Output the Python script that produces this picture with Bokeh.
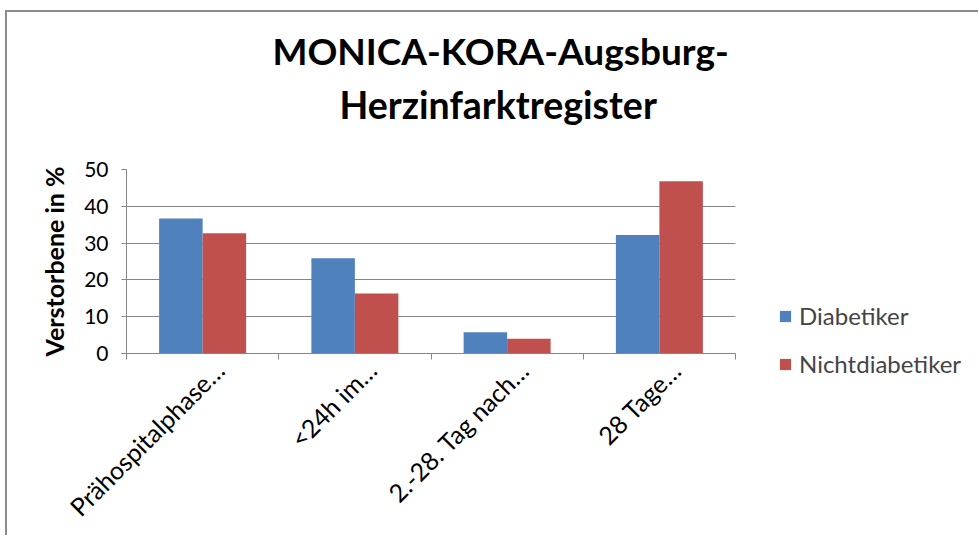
import numpy as np
from bokeh.plotting import figure
from bokeh.layouts import row
from bokeh.models import (ColumnDataSource, Range1d, FixedTicker, Legend, LegendItem, Title)
from bokeh.embed import file_html
from bokeh.resources import INLINE

# ---- data ----
categories = ["Prähospitalphase…", "<24h im…", "2.-28. Tag nach…", "28 Tage…"]
diabetiker = [36.7, 25.9, 5.8, 32.2]
nichtdiabetiker = [32.7, 16.3, 4.0, 46.8]
y_ticks = [0, 10, 20, 30, 40, 50]
series_names = ["Diabetiker", "Nichtdiabetiker"]
title_lines = ["MONICA-KORA-Augsburg-", "Herzinfarktregister"]
y_label = "Verstorbene in %"

BLUE = "#4F81BD"
RED = "#C0504D"
GRID = "#868686"
FONT = "Lato"

centers = np.arange(len(categories)) + 0.5
bw = 1 / 3.5
src = ColumnDataSource(dict(
    xd=centers - bw / 2, xn=centers + bw / 2,
    d=diabetiker, n=nichtdiabetiker, cat=categories))

W1, W2, H = 733, 238, 523
p = figure(width=W1, height=H, output_backend="svg", toolbar_location=None,
           x_range=Range1d(0, len(categories)), y_range=Range1d(0, 50),
           min_border_left=119, min_border_right=5, min_border_top=157,
           min_border_bottom=H - 341)
p.frame_align = False
p.outline_line_color = None
p.background_fill_color = "white"
p.border_fill_color = "white"

rd = p.vbar(x="xd", top="d", width=bw, source=src, fill_color=BLUE, line_color=None)
rn = p.vbar(x="xn", top="n", width=bw, source=src, fill_color=RED, line_color=None)

# y axis
p.yaxis.ticker = FixedTicker(ticks=y_ticks, minor_ticks=[])
p.yaxis.axis_line_color = GRID
p.yaxis.major_tick_line_color = GRID
p.yaxis.major_tick_out = 5
p.yaxis.major_tick_in = 0
p.yaxis.major_label_standoff = 13
p.yaxis.major_label_text_font = FONT
p.yaxis.major_label_text_font_size = "21px"
p.yaxis.major_label_text_color = "black"
p.yaxis.axis_label = y_label
p.yaxis.axis_label_text_font = FONT
p.yaxis.axis_label_text_font_style = "bold"
p.yaxis.axis_label_text_font_size = "25px"
p.yaxis.axis_label_text_color = "black"
p.yaxis.axis_label_standoff = 12
p.ygrid.ticker = FixedTicker(ticks=y_ticks)
p.ygrid.grid_line_color = GRID
p.xgrid.grid_line_color = None

# x axis: labels near category centres, ticks at category boundaries
label_pos = [float(c) + 0.11 for c in centers]
p.xaxis.ticker = FixedTicker(ticks=label_pos,
                             minor_ticks=list(range(len(categories) + 1)))
p.xaxis.major_label_overrides = {lp: t for lp, t in zip(label_pos, categories)}
p.xaxis.axis_line_color = GRID
p.xaxis.major_tick_line_color = None
p.xaxis.major_tick_out = 0
p.xaxis.major_tick_in = 0
p.xaxis.minor_tick_line_color = GRID
p.xaxis.minor_tick_out = 6
p.xaxis.minor_tick_in = 0
p.xaxis.major_label_orientation = np.pi / 4
p.xaxis.major_label_standoff = 6
p.xaxis.major_label_text_font = FONT
p.xaxis.major_label_text_font_size = "25px"
p.xaxis.major_label_text_color = "black"

# title: two lines stacked outward from the plot area (spacer nearest)
spacer = Title(text=" ", text_font_size="1px", standoff=39)
t2 = Title(text=title_lines[1], align="left", offset=213, standoff=2,
           text_font=FONT, text_font_style="bold", text_font_size="37.5px",
           text_color="black")
t1 = Title(text=title_lines[0], align="left", offset=146, standoff=11,
           text_font=FONT, text_font_style="bold", text_font_size="37px",
           text_color="black")
p.add_layout(spacer, "above")
p.add_layout(t2, "above")
p.add_layout(t1, "above")

# legend panel (separate canvas to the right of the plot)
q = figure(width=W2, height=H, output_backend="svg", toolbar_location=None,
           x_axis_type=None, y_axis_type=None, min_border=0,
           x_range=p.x_range, y_range=p.y_range)
q.frame_align = False
q.outline_line_color = None
q.grid.visible = False
qd = q.vbar(x="xd", top="d", width=bw, source=src, fill_color=BLUE, line_color=None,
            visible=False)
qn = q.vbar(x="xn", top="n", width=bw, source=src, fill_color=RED, line_color=None,
            visible=False)
legend = Legend(items=[LegendItem(label=series_names[0], renderers=[qd]),
                       LegendItem(label=series_names[1], renderers=[qn])],
                location=(38, H + 12 - 378), orientation="vertical",
                glyph_width=14, glyph_height=14, label_height=28, spacing=19,
                label_standoff=7, padding=0, margin=0,
                border_line_color=None, background_fill_alpha=0,
                inactive_fill_alpha=0,
                label_text_font=FONT, label_text_font_size="24px")
q.add_layout(legend, "center")

layout = row(p, q)
layout.styles = {"border-left": "2px solid #8c8c8c", "border-top": "2px solid #8c8c8c",
                 "margin-left": "5px", "margin-top": "10px"}

open("out.html", "w").write(file_html(layout, INLINE))
